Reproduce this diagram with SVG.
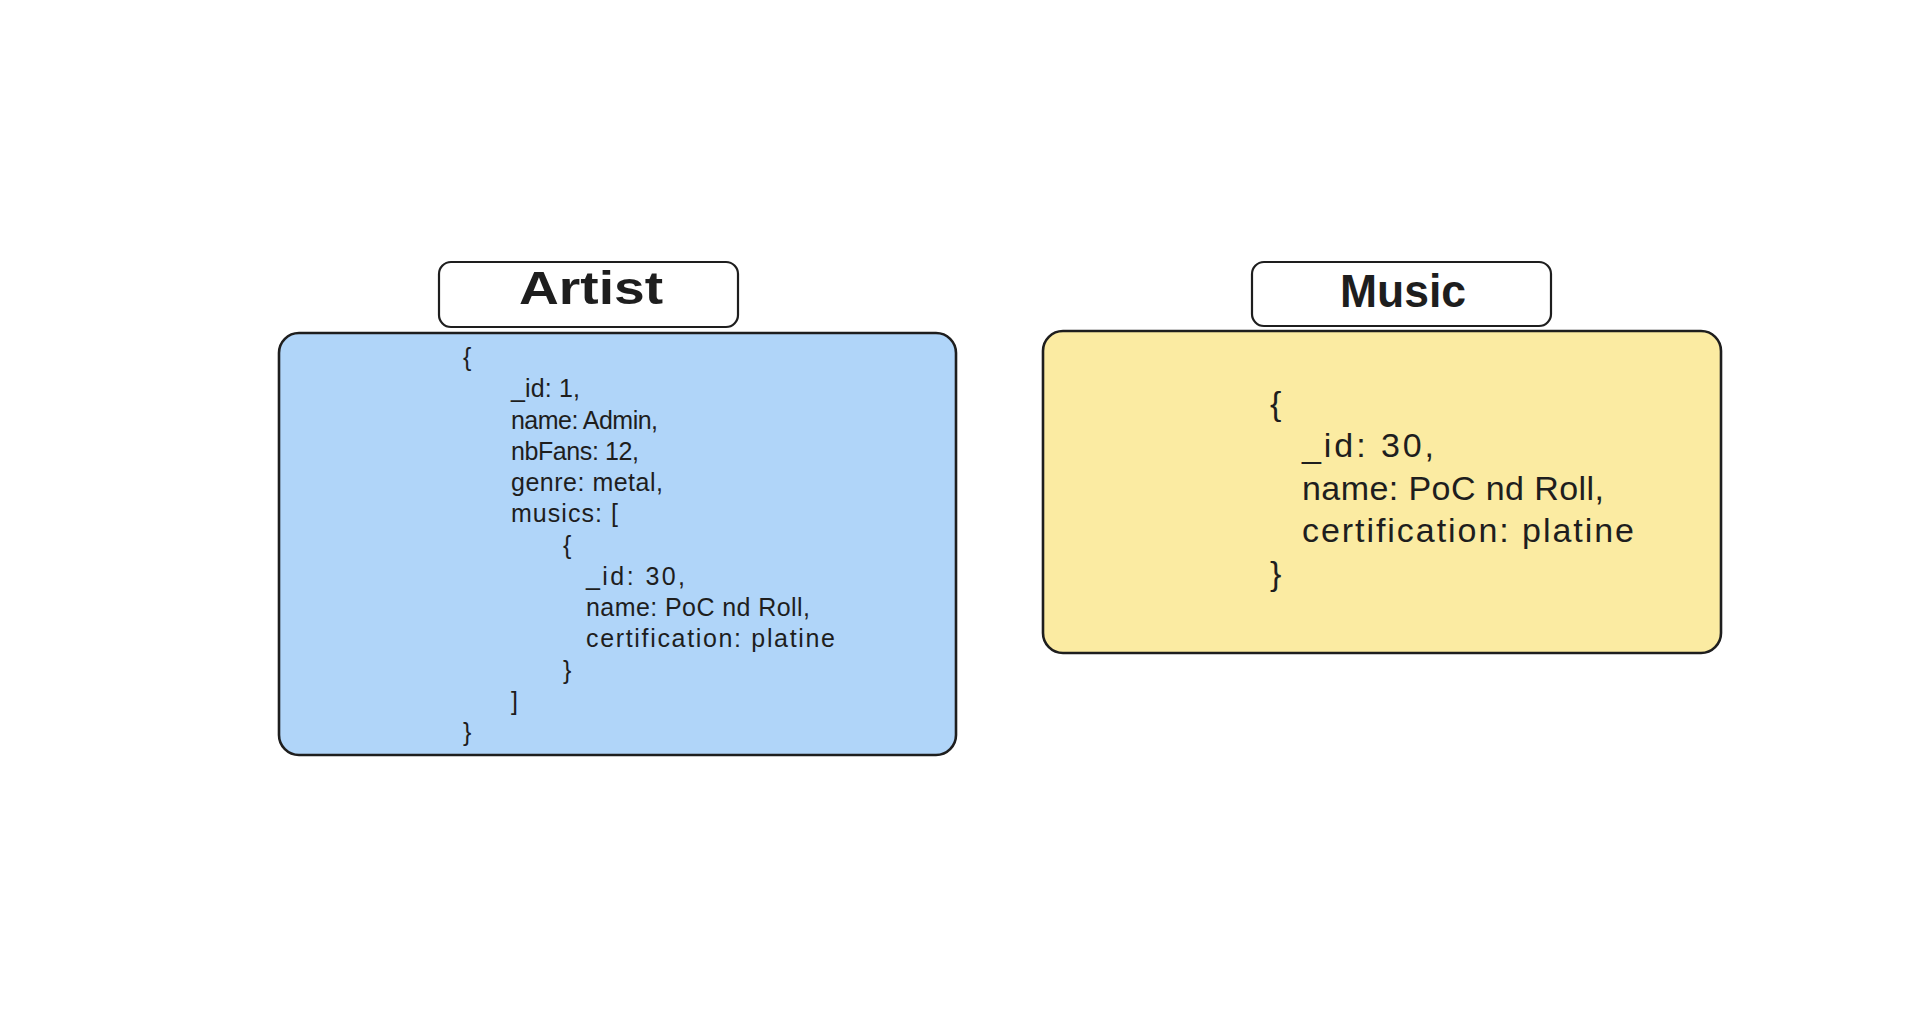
<svg xmlns="http://www.w3.org/2000/svg" width="1927" height="1019" viewBox="0 0 1927 1019">
  <style>
    .bg { fill: #ffffff; }
    .title-box { fill: #ffffff; stroke: #1e1e1e; stroke-width: 2.2; }
    .blue { fill: #b0d5f9; stroke: #1e1e1e; stroke-width: 2.6; }
    .yellow { fill: #fbeba2; stroke: #1e1e1e; stroke-width: 2.6; }
    .title { font-family: "Liberation Sans", Arial, sans-serif; font-weight: bold; font-size: 46px; fill: #1e1e1e; }
    .code { font-family: "Liberation Sans", Arial, sans-serif; font-size: 25px; fill: #1e1e1e; }
    .code-lg { font-family: "Liberation Sans", Arial, sans-serif; font-size: 34px; fill: #1e1e1e; }
  </style>
  <rect class="bg" x="0" y="0" width="1927" height="1019"/>

  <g id="artist-title">
    <rect class="title-box" x="439" y="262" width="299" height="65" rx="12" ry="12"/>
    <text class="title" x="519" y="304" textLength="144" lengthAdjust="spacingAndGlyphs">Artist</text>
  </g>

  <g id="artist-document">
    <rect class="blue" x="279" y="333" width="677" height="422" rx="20" ry="20"/>
    <text class="code" x="463" y="366">{</text>
    <text class="code" x="511" y="397.25" textLength="69" lengthAdjust="spacing">_id: 1,</text>
    <text class="code" x="511" y="428.5" textLength="147" lengthAdjust="spacing">name: Admin,</text>
    <text class="code" x="511" y="459.75" textLength="128" lengthAdjust="spacing">nbFans: 12,</text>
    <text class="code" x="511" y="491" textLength="152" lengthAdjust="spacing">genre: metal,</text>
    <text class="code" x="511" y="522.25" textLength="107" lengthAdjust="spacing">musics: [</text>
    <text class="code" x="563" y="553.5">{</text>
    <text class="code" x="586" y="584.75" textLength="99" lengthAdjust="spacing">_id: 30,</text>
    <text class="code" x="586" y="616" textLength="224" lengthAdjust="spacing">name: PoC nd Roll,</text>
    <text class="code" x="586" y="647.25" textLength="249" lengthAdjust="spacing">certification: platine</text>
    <text class="code" x="563" y="678.5">}</text>
    <text class="code" x="511" y="709.75">]</text>
    <text class="code" x="463" y="741">}</text>
  </g>

  <g id="music-title">
    <rect class="title-box" x="1252" y="262" width="299" height="64" rx="12" ry="12"/>
    <text class="title" x="1340" y="307" textLength="126" lengthAdjust="spacingAndGlyphs">Music</text>
  </g>

  <g id="music-document">
    <rect class="yellow" x="1043" y="331" width="678" height="322" rx="20" ry="20"/>
    <text class="code-lg" x="1270" y="414.5">{</text>
    <text class="code-lg" x="1302" y="457" textLength="132" lengthAdjust="spacing">_id: 30,</text>
    <text class="code-lg" x="1302" y="499.5" textLength="302" lengthAdjust="spacing">name: PoC nd Roll,</text>
    <text class="code-lg" x="1302" y="542" textLength="332" lengthAdjust="spacing">certification: platine</text>
    <text class="code-lg" x="1270" y="584.5">}</text>
  </g>

  <g id="connectors"/>
</svg>
